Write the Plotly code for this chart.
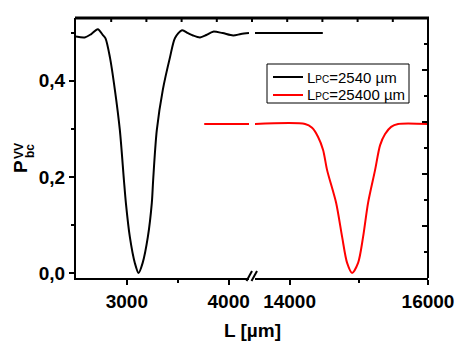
import plotly.graph_objects as go

# black curve, L_PC = 2540 um (left segment of the broken axis)
black_left_L = [2500, 2586, 2650, 2714, 2764, 2790, 2833, 2882, 2931, 2971, 2990, 3029, 3078, 3115,
                3155, 3206, 3245, 3258, 3294, 3353, 3424, 3473, 3542, 3600, 3650, 3719, 3780,
                3847, 3940, 4044, 4120, 4200]
black_left_P = [0.492, 0.490, 0.497, 0.507, 0.495, 0.488, 0.449, 0.381, 0.297, 0.193, 0.146, 0.075, 0.021, 0.0,
                0.021, 0.075, 0.146, 0.193, 0.297, 0.381, 0.449, 0.489, 0.505, 0.499, 0.494, 0.490, 0.495,
                0.502, 0.499, 0.494, 0.497, 0.499]
# black curve, right segment
black_right_L = [13500, 14480]
black_right_P = [0.499, 0.499]

# red curve, L_PC = 25400 um
red_left_L = [3760, 4200]
red_left_P = [0.31, 0.31]
red_right_L = [13500, 14224, 14325, 14412, 14484, 14542, 14672, 14759, 14831, 14903,
               14990, 15062, 15134, 15235, 15308, 15380, 15467, 15568, 16000]
red_right_P = [0.31, 0.31, 0.302, 0.283, 0.256, 0.214, 0.146, 0.075, 0.021, 0.0,
               0.021, 0.075, 0.146, 0.214, 0.266, 0.289, 0.304, 0.31, 0.31]

y_ticks = [0.0, 0.2, 0.4]
y_ticktext = ['0,0', '0,2', '0,4']
y_minor = [0.1, 0.3, 0.5]
x1_ticks = [3000, 4000]
x1_ticktext = ['3000', '4000']
x1_minor = [3500]
x2_ticks = [14000, 16000]
x2_ticktext = ['14000', '16000']
x2_minor = [15000]
frame_ticks = [1, 2, 3, 4, 5, 6, 7, 8, 9]

series_names = ["L<span style='font-size:10px'>PC</span>=2540 µm",
                "L<span style='font-size:10px'>PC</span>=25400 µm"]
series_colors = ['black', '#ff0000']

bold = dict(family='Liberation Sans, Arial, sans-serif', size=19, color='black', weight='bold')

fig = go.Figure()
fig.add_trace(go.Scatter(x=black_left_L, y=black_left_P, mode='lines', name=series_names[0],
                         line=dict(color=series_colors[0], width=2, shape='spline', smoothing=0.8),
                         xaxis='x', yaxis='y'))
fig.add_trace(go.Scatter(x=red_left_L, y=red_left_P, mode='lines', name=series_names[1],
                         line=dict(color=series_colors[1], width=2), xaxis='x', yaxis='y'))
fig.add_trace(go.Scatter(x=black_right_L, y=black_right_P, mode='lines', name=series_names[0],
                         line=dict(color=series_colors[0], width=2), xaxis='x2', yaxis='y'))
fig.add_trace(go.Scatter(x=red_right_L, y=red_right_P, mode='lines', name=series_names[1],
                         line=dict(color=series_colors[1], width=2, shape='spline', smoothing=0.8),
                         xaxis='x2', yaxis='y'))
# right frame axis, carried by an invisible trace
fig.add_trace(go.Scatter(x=[0, 10], y=[0, 10], mode='lines', line=dict(width=0), opacity=0,
                         xaxis='x3', yaxis='y2', hoverinfo='skip'))

axis_common = dict(showline=True, linecolor='black', linewidth=2, showgrid=False, zeroline=False,
                   tickcolor='black', tickwidth=2, tickfont=bold, automargin=False)

# page has an 8px body margin, so the figure is 8px smaller and shifted
fig.update_layout(
    width=459, height=342,
    margin=dict(l=68, r=39, t=10, b=72, autoexpand=False),
    paper_bgcolor='white', plot_bgcolor='rgba(0,0,0,0)',
    showlegend=False,
    xaxis=dict(axis_common, domain=[0, 0.4915], range=[2500, 4200], anchor='y',
               tickmode='array', tickvals=x1_ticks, ticktext=x1_ticktext, ticks='outside', ticklen=5,
               minor=dict(tickvals=x1_minor, ticks='outside', ticklen=3, tickcolor='black', tickwidth=2)),
    xaxis2=dict(axis_common, domain=[0.5085, 1], range=[13500, 16000], anchor='y',
                tickmode='array', tickvals=x2_ticks, ticktext=x2_ticktext, ticks='outside', ticklen=5,
                minor=dict(tickvals=x2_minor, ticks='outside', ticklen=3, tickcolor='black', tickwidth=2)),
    yaxis=dict(axis_common, domain=[0, 1], range=[-0.0104, 0.5304], anchor='x',
               tickmode='array', tickvals=y_ticks, ticktext=y_ticktext, ticks='outside', ticklen=5,
               minor=dict(tickvals=y_minor, ticks='outside', ticklen=3, tickcolor='black', tickwidth=2)),
    xaxis3=dict(visible=False, domain=[0, 1], range=[0, 10], anchor='y2'),
    yaxis2=dict(showline=True, linecolor='black', linewidth=2, showgrid=False, zeroline=False,
                domain=[0, 1], range=[0, 10], anchor='free', position=1, side='right', automargin=False,
                tickmode='array', tickvals=frame_ticks[1::2], ticks='inside', ticklen=5,
                tickcolor='black', tickwidth=2, showticklabels=False,
                minor=dict(tickvals=frame_ticks[0::2], ticks='inside', ticklen=3, tickcolor='black', tickwidth=2)),
)


def px_x(px):
    return (px - 76) / 352


def px_y(py):
    return (278 - py) / 260


# top frame line with its evenly spaced inner ticks
fig.add_shape(type='rect', xref='paper', yref='paper', x0=px_x(75), x1=px_x(429),
              y0=px_y(19.5), y1=px_y(16.5), fillcolor='black', line=dict(width=0), layer='above')
for t in frame_ticks:
    fig.add_shape(type='rect', xref='paper', yref='paper', x0=t / 10 - 1 / 352, x1=t / 10 + 1 / 352,
                  y0=px_y(22), y1=px_y(18), fillcolor='black', line=dict(width=0), layer='above')

# axis break marks
for x0 in [246.5, 251.5]:
    fig.add_shape(type='line', xref='paper', yref='paper',
                  x0=px_x(x0), y0=px_y(281), x1=px_x(x0 + 5.5), y1=px_y(271),
                  line=dict(color='black', width=2))

# legend box, keys and labels
fig.add_shape(type='rect', xref='paper', yref='paper', x0=px_x(267), x1=px_x(409),
              y0=px_y(103), y1=px_y(64), fillcolor='white', line=dict(color='black', width=1))
for row_y, name, color in zip([77, 95], series_names, series_colors):
    fig.add_shape(type='line', xref='paper', yref='paper', x0=px_x(273), x1=px_x(303),
                  y0=px_y(row_y), y1=px_y(row_y), line=dict(color=color, width=2))
    fig.add_annotation(text=name, xref='paper', yref='paper', x=px_x(305), y=px_y(row_y),
                       showarrow=False, xanchor='left', yanchor='middle',
                       font=dict(family='Liberation Sans, Arial, sans-serif', size=15, color='black'))

# axis titles
fig.add_annotation(text='L [µm]', xref='paper', yref='paper', x=0.5, y=px_y(330),
                   showarrow=False, font=bold, xanchor='center', yanchor='middle')
fig.add_annotation(text='P', xref='paper', yref='paper', x=px_x(20), y=px_y(167),
                   showarrow=False, font=bold, textangle=-90, xanchor='center', yanchor='middle')
small_bold = dict(bold, size=12)
fig.add_annotation(text='VV', xref='paper', yref='paper', x=px_x(19), y=px_y(151),
                   showarrow=False, font=small_bold, textangle=-90, xanchor='center', yanchor='middle')
fig.add_annotation(text='bc', xref='paper', yref='paper', x=px_x(30), y=px_y(151),
                   showarrow=False, font=small_bold, textangle=-90, xanchor='center', yanchor='middle')

fig.write_html("out.html")
